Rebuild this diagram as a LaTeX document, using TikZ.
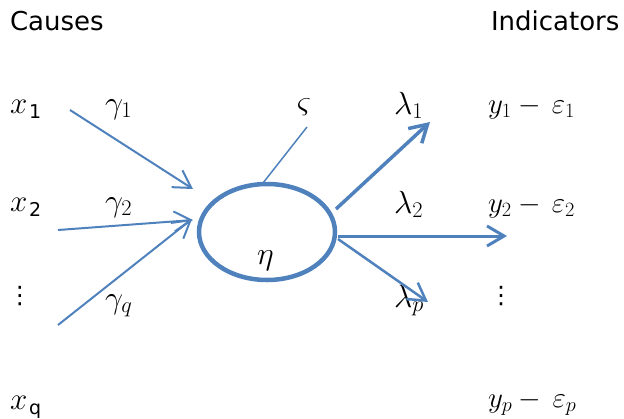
\RequirePackage{fix-cm}
\documentclass[tikz,border=0pt]{standalone}
\usepackage{fontspec}
\setmainfont{DejaVu Sans}
\usetikzlibrary{arrows.meta,shapes.geometric}
\definecolor{lineblue}{RGB}{79,129,189}
\begin{document}
\begin{tikzpicture}[x=1pt,y=-1pt,
  lbl/.style={anchor=base west, inner sep=0pt, outer sep=0pt},
  hdr/.style={lbl, font=\fontsize{26}{26}\selectfont},
  bigm/.style={lbl, font=\fontsize{32}{32}\selectfont},
  xm/.style={lbl, font=\fontsize{31}{31}\selectfont},
  midm/.style={lbl, font=\fontsize{29}{29}\selectfont},
  dots/.style={lbl, font=\fontsize{24}{24}\selectfont},
  arr/.style={draw=lineblue, -{Straight Barb[length=17pt,width=20pt]}, line width=2pt},
  thin/.style={draw=lineblue, line width=1.5pt}
]
\useasboundingbox (0,0) rectangle (624,418);
% headers
\node[hdr] (causes) at (10,30) {Causes};
\node[hdr] (ind) at (491,30) {Indicators};
% causes
\node[xm] (x1) at (10,113) {$x$\hspace{2pt}\raisebox{-5pt}{\fontsize{19}{19}\selectfont 1}};
\node[xm] (x2) at (10,211) {$x$\hspace{2pt}\raisebox{-5pt}{\fontsize{19}{19}\selectfont 2}};
\node[dots] (xd) at (8,303) {⋮};
\node[xm] (xq) at (10,409) {$x$\hspace{2pt}\raisebox{-5pt}{\fontsize{19}{19}\selectfont q}};
% gammas
\node[bigm] (g1) at (105,113) {$\gamma_1$};
\node[bigm] (g2) at (105,211) {$\gamma_2$};
\node[bigm] (gq) at (105,308) {$\gamma_q$};
% latent
\node[draw=lineblue, line width=4.5pt, ellipse, minimum width=136pt, minimum height=96pt, inner sep=0pt] (eta) at (267,232) {};
\node[bigm] (etal) at (257,264) {$\eta$};
\node[bigm] (zeta) at (297,112) {$\varsigma$};
% lambdas
\node[bigm] (l1) at (394,114) {$\lambda_1$};
\node[bigm] (l2) at (394,213) {$\lambda_2$};
\node[bigm] (lp) at (394,307) {$\lambda_p$};
% indicators
\node[midm] (y1) at (488,113) {$y_1 -\, \varepsilon_1$};
\node[midm] (y2) at (488,212) {$y_2 -\, \varepsilon_2$};
\node[dots] (yd) at (489,303) {⋮};
\node[midm] (yp) at (488,407) {$y_p -\, \varepsilon_p$};
% connector end points
\coordinate (a1s) at (70,110);  \coordinate (a1e) at (193,189);
\coordinate (a2s) at (58,230);  \coordinate (a2e) at (193,220);
\coordinate (a3s) at (58,325);  \coordinate (a3e) at (192,219);
\coordinate (zs) at (263,183);  \coordinate (ze) at (307,127);
\coordinate (r1s) at (336,209); \coordinate (r1e) at (430,122);
\coordinate (r2s) at (338,236); \coordinate (r2e) at (507,236);
\coordinate (r3s) at (338,239); \coordinate (r3e) at (428,302);
% connectors
\draw[arr] (a1s) -- (a1e);
\draw[arr] (a2s) -- (a2e);
\draw[arr] (a3s) -- (a3e);
\draw[thin] (zs) -- (ze);
\draw[arr, line width=3.5pt] (r1s) -- (r1e);
\draw[arr, line width=3pt] (r2s) -- (r2e);
\draw[arr, line width=2.5pt] (r3s) -- (r3e);
\end{tikzpicture}
\end{document}
